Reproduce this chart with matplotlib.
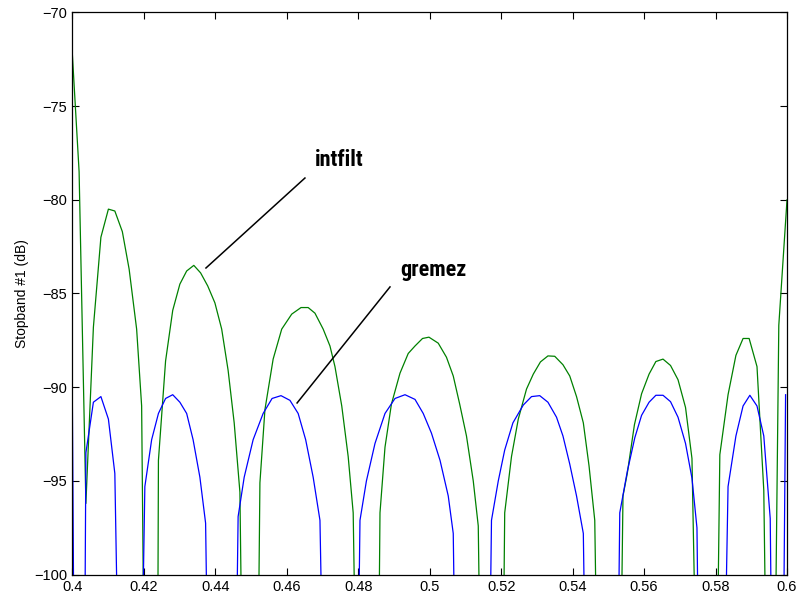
import matplotlib.pyplot as plt

# intfilt response, -120 marks nulls below the axis
f_intfilt = [0.4000, 0.4019, 0.4038, 0.4059, 0.4080, 0.4101, 0.4119, 0.4140,
             0.4159, 0.4180, 0.4194, 0.4208, 0.4236, 0.4241, 0.4261, 0.4281,
             0.4301, 0.4320, 0.4340, 0.4359, 0.4379, 0.4399, 0.4418, 0.4436,
             0.4453, 0.4469, 0.4485, 0.4512, 0.4525, 0.4539, 0.4562, 0.4586,
             0.4614, 0.4640, 0.4660, 0.4679, 0.4702, 0.4721, 0.4735, 0.4754,
             0.4772, 0.4786, 0.4805, 0.4850, 0.4861, 0.4875, 0.4893, 0.4917,
             0.4940, 0.4959, 0.4980, 0.4998, 0.5024, 0.5047, 0.5066, 0.5084,
             0.5103, 0.5122, 0.5136, 0.5152, 0.5198, 0.5210, 0.5229, 0.5248,
             0.5271, 0.5290, 0.5310, 0.5331, 0.5350, 0.5373, 0.5392, 0.5411,
             0.5430, 0.5446, 0.5462, 0.5480, 0.5525, 0.5541, 0.5553, 0.5573,
             0.5593, 0.5614, 0.5633, 0.5653, 0.5674, 0.5695, 0.5716, 0.5734,
             0.5760, 0.5795, 0.5812, 0.5835, 0.5857, 0.5877, 0.5894, 0.5916,
             0.5935, 0.5952, 0.5958, 0.5977, 0.6000]
db_intfilt = [-72.2, -78.5, -96.2, -86.8, -82.0, -80.5, -80.6, -81.7,
              -83.7, -86.9, -91.0, -120, -120, -93.9, -88.6, -85.9,
              -84.5, -83.8, -83.5, -83.9, -84.6, -85.5, -86.9, -89.1,
              -91.9, -95.6, -120, -120, -95.1, -91.2, -88.5, -86.9,
              -86.1, -85.75, -85.75, -86.05, -86.9, -87.8, -88.9, -91.0,
              -93.7, -96.7, -120, -120, -96.7, -93.2, -90.9, -89.25,
              -88.2, -87.8, -87.4, -87.33, -87.65, -88.4, -89.4, -90.9,
              -92.6, -95.0, -97.4, -120, -120, -96.7, -93.7, -91.7,
              -90.1, -89.3, -88.65, -88.33, -88.35, -88.8, -89.4, -90.5,
              -91.9, -94.2, -97.1, -120, -120, -95.8, -94.6, -92.0,
              -90.35, -89.3, -88.63, -88.5, -88.84, -89.6, -91.08, -93.8,
              -120, -120, -93.6, -90.4, -88.3, -87.4, -87.4, -88.9,
              -95.5, -120, -120, -86.7, -80.0]

# gremez response
f_gremez = [0.4000, 0.4010, 0.4030, 0.4038, 0.4059, 0.4080, 0.4101, 0.4119,
            0.4142, 0.4182, 0.4203, 0.4222, 0.4241, 0.4261, 0.4281, 0.4301,
            0.4320, 0.4338, 0.4357, 0.4373, 0.4390, 0.4448, 0.4464, 0.4481,
            0.4506, 0.4534, 0.4559, 0.4584, 0.4609, 0.4632, 0.4653, 0.4674,
            0.4693, 0.4715, 0.4790, 0.4805, 0.4823, 0.4847, 0.4875, 0.4903,
            0.4931, 0.4959, 0.4982, 0.5005, 0.5029, 0.5052, 0.5066, 0.5082,
            0.5158, 0.5173, 0.5192, 0.5210, 0.5233, 0.5262, 0.5285, 0.5308,
            0.5331, 0.5355, 0.5373, 0.5392, 0.5411, 0.5430, 0.5447, 0.5518,
            0.5532, 0.5553, 0.5574, 0.5593, 0.5614, 0.5633, 0.5653, 0.5674,
            0.5695, 0.5716, 0.5734, 0.5748, 0.5762, 0.5812, 0.5835, 0.5857,
            0.5877, 0.5896, 0.5916, 0.5935, 0.5953, 0.5966, 0.5983, 0.5996]
db_gremez = [-90.4, -120, -120, -93.5, -90.8, -90.5, -91.7, -94.6,
             -120, -120, -95.3, -92.8, -91.4, -90.6, -90.4, -90.8,
             -91.4, -92.8, -94.8, -97.25, -120, -120, -96.9, -94.8,
             -92.8, -91.4, -90.6, -90.45, -90.7, -91.4, -92.8, -94.8,
             -97.1, -120, -120, -97.1, -95.0, -93.0, -91.4, -90.6,
             -90.4, -90.65, -91.4, -92.45, -93.9, -95.8, -97.8, -120,
             -120, -97.1, -95.0, -93.35, -91.9, -90.95, -90.5, -90.45,
             -90.8, -91.6, -92.6, -94.1, -95.8, -97.8, -120, -120,
             -96.7, -94.5, -92.7, -91.5, -90.8, -90.43, -90.43, -90.77,
             -91.6, -93.0, -94.85, -97.5, -120, -120, -95.3, -92.6,
             -91.0, -90.43, -91.0, -92.6, -97.0, -120, -120, -90.4]

x_ticks = [0.4, 0.42, 0.44, 0.46, 0.48, 0.5, 0.52, 0.54, 0.56, 0.58, 0.6]
x_labels = ['0.4', '0.42', '0.44', '0.46', '0.48', '0.5', '0.52', '0.54',
            '0.56', '0.58', '0.6']
y_ticks = [-100, -95, -90, -85, -80, -75, -70]

plt.rcParams['font.family'] = ['Liberation Sans', 'DejaVu Sans']

fig = plt.figure(figsize=(7.99, 6), dpi=100)
ax = fig.add_axes([0.0905, 0.0422, 0.8945, 0.9373])

ax.plot(f_intfilt, db_intfilt, color='#008000', linewidth=0.9)
ax.plot(f_gremez, db_gremez, color='#0000ff', linewidth=0.9)

ax.set_xlim(0.4, 0.6)
ax.set_ylim(-100, -70)
ax.set_xticks(x_ticks)
ax.set_xticklabels(x_labels)
ax.set_yticks(y_ticks)
ax.tick_params(direction='in', length=5, top=True, right=True,
               labelsize=10.5, width=0.8)
for s in ax.spines.values():
    s.set_linewidth(0.9)
ax.set_ylabel('Stopband #1 (dB)', fontsize=10)

# annotations (condensed bold label font)
cond = ['Roboto Condensed', 'DejaVu Sans']
ax.plot([0.4374, 0.4651], [-83.64, -78.84], color='black', linewidth=1.1)
ax.text(0.4679, -77.9, 'intfilt', family=cond, fontweight='bold',
        fontsize=16, va='center', ha='left')
ax.plot([0.4629, 0.4889], [-90.84, -84.65], color='black', linewidth=1.1)
ax.text(0.4919, -83.75, 'gremez', family=cond, fontweight='bold',
        fontsize=16, va='center', ha='left')

fig.savefig('out.png', dpi=100)
